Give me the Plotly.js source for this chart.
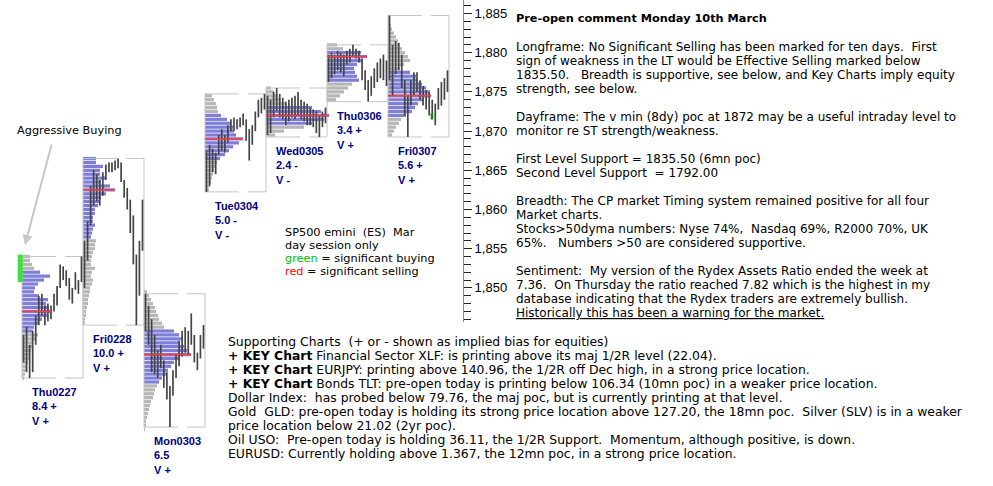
<!DOCTYPE html>
<html>
<head>
<meta charset="utf-8">
<script src="https://cdn.plot.ly/plotly-3.0.1.min.js"></script>
<style>
  html, body { margin: 0; padding: 0; background: #fff; }
  #chart { width: 993px; height: 486px; }
</style>
</head>
<body>
<div id="chart"></div>
<script>
// ES (Mar) day sessions
const dayNames = ['Thu0227', 'Fri0228', 'Mon0303', 'Tue0304', 'Wed0305', 'Thu0306', 'Fri0307'];
const dayRangeNotes = ['8.4 +', '10.0 +', '6.5', '5.0 -', '2.4 -', '3.4 +', '5.6 +'];
const dayVolNotes = ['V +', 'V +', 'V +', 'V -', 'V -', 'V +', 'V +'];

// intraday bars, 20 per session
const barHighs = [
    [1844, 1845, 1842.75, 1844.5, 1846.5, 1849, 1849.25, 1847.75, 1848, 1847.75, 1849.25, 1850.25, 1853, 1852.75, 1852.25, 1851.25, 1850, 1852, 1851, 1854],
    [1856, 1858.5, 1863, 1865, 1864.5, 1863.75, 1864.75, 1865.75, 1866, 1866, 1866.25, 1866.5, 1866, 1863.75, 1862.75, 1861.25, 1859.25, 1854.25, 1856, 1861.25],
    [1849.25, 1847.75, 1846, 1844, 1842, 1842.75, 1840.75, 1839.25, 1837.5, 1839.5, 1841.5, 1843.25, 1844.5, 1845, 1844.5, 1846.75, 1844, 1841.75, 1844, 1845.25],
    [1867.5, 1868.25, 1867.75, 1867.25, 1869.5, 1870.25, 1869.5, 1870.75, 1871.5, 1871.75, 1871.5, 1871.75, 1872.25, 1871.5, 1870.25, 1870.75, 1872.5, 1874, 1874.25, 1874.75],
    [1874.5, 1874, 1875, 1875.5, 1874.75, 1874.25, 1873.75, 1874, 1874.25, 1874.5, 1875, 1874, 1873.75, 1873.5, 1873, 1872.75, 1872.5, 1872, 1872.5, 1873],
    [1879.75, 1880, 1879.75, 1880.25, 1880, 1879.75, 1880.25, 1880.5, 1881, 1880.5, 1880.25, 1879.25, 1877.75, 1876.5, 1877, 1878, 1878.75, 1879.25, 1879.75, 1879],
    [1884.75, 1881, 1881.5, 1881.25, 1879.75, 1876.5, 1874.5, 1876.5, 1877.5, 1877.5, 1876.5, 1875.75, 1875.25, 1875, 1874, 1873.5, 1875.5, 1876.25, 1876.75, 1877.75]
];
const barLows = [
    [1840.5, 1839.25, 1838.5, 1839.25, 1842.75, 1845.25, 1846.5, 1845.25, 1845.75, 1846, 1847, 1847.75, 1850, 1851, 1850.25, 1848.5, 1848, 1849.75, 1849.25, 1850.75],
    [1850, 1853.5, 1858, 1860.5, 1861, 1860.5, 1861.75, 1863.75, 1864.75, 1864.75, 1865, 1865.25, 1863.5, 1861.5, 1860, 1857, 1853, 1845.25, 1849, 1854.75],
    [1844.5, 1842.75, 1839.25, 1839, 1838.5, 1839.75, 1837.25, 1835.75, 1832.25, 1836.25, 1838.5, 1840, 1841.25, 1841.75, 1841.5, 1842.75, 1840.5, 1839.5, 1841, 1842.25],
    [1862.25, 1863, 1864.75, 1864.5, 1867, 1867.5, 1867.25, 1868.5, 1870, 1870, 1870.25, 1870.5, 1870.75, 1868.75, 1866.25, 1868.25, 1870, 1871.75, 1872.25, 1872.75],
    [1869.5, 1869.75, 1871.75, 1872.5, 1871.75, 1871.5, 1870.75, 1871.25, 1871.75, 1871.5, 1872, 1871.5, 1871.25, 1870.75, 1870.75, 1870.5, 1869.75, 1869.25, 1870.5, 1871],
    [1876.25, 1876.75, 1877.25, 1877.75, 1877.5, 1877, 1878.5, 1878.75, 1879.5, 1879.25, 1878.75, 1876.5, 1875.25, 1873.75, 1874.5, 1875.5, 1876.25, 1876.75, 1876.5, 1875.75],
    [1876.5, 1874.5, 1877.25, 1877.75, 1875.5, 1872, 1869.25, 1873.25, 1874.5, 1875, 1874, 1873.25, 1872.75, 1872, 1871.5, 1870.75, 1872.75, 1873.25, 1874, 1875]
];

// volume profile, 0.5 pt steps going down from profileTop
const profileTop = [1854, 1866.5, 1849.5, 1874.5, 1875.5, 1881, 1884.5];
const profileVol = [
    [8, 8, 10, 12, 18, 28, 22, 16, 13, 12, 17, 26, 24, 27, 30, 25, 20, 16, 12, 11, 16, 13, 11, 10, 9, 7, 7, 6, 5, 4, 3, 2],
    [13, 13, 20, 17, 17, 23, 18, 27, 32, 23, 18, 16, 15, 12, 12, 10, 10, 12, 10, 9, 8, 13, 12, 12, 10, 9, 8, 8, 12, 9, 8, 10, 9, 7, 7, 6, 5, 5, 4, 3, 3, 2, 2],
    [3, 5, 7, 9, 11, 12, 14, 15, 18, 20, 30, 35, 38, 36, 40, 43, 47, 36, 30, 27, 24, 22, 18, 15, 13, 11, 10, 9, 7, 6, 5, 4, 3, 2, 2, 1],
    [7, 9, 11, 12, 13, 16, 22, 26, 28, 29, 31, 38, 34, 28, 24, 20, 15, 12, 11, 9, 8, 7, 6, 5, 4],
    [5, 8, 12, 15, 20, 46, 55, 63, 58, 46, 38, 18, 9],
    [10, 16, 34, 40, 35, 30, 27, 28, 30, 32, 25, 21, 17, 13, 9],
    [2, 2, 3, 4, 6, 8, 10, 12, 14, 17, 20, 22, 16, 12, 22, 28, 29, 34, 38, 42, 43, 35, 30, 27, 24, 18, 13, 11, 8, 6, 4]
];
const valueHigh = [1852, 1866.5, 1844.5, 1872, 1873, 1880, 1877.5];
const valueLow = [1844.5, 1856.5, 1838, 1866.5, 1871, 1876.5, 1872];

// significant buying marks (session, time of day, price span)
const sigBuyDay = [0, 6];
const sigBuyTime = [-0.03, 0.72];
const sigBuyLow = [1850.75, 1871.5];
const sigBuyHigh = [1854.25, 1872.25];

const yTickVals = [1850, 1855, 1860, 1865, 1870, 1875, 1880, 1885];

const commentLines = [
    '<b>Pre-open comment Monday 10th March</b>',
    '',
    'Longframe: No Significant Selling has been marked for ten days.\u00a0 First',
    'sign of weakness in the LT would be Effective Selling marked below',
    '1835.50.\u00a0\u00a0 Breadth is supportive, see below, and Key Charts imply equity',
    'strength, see below.',
    '',
    'Dayframe: The v min (8dy) poc at 1872 may be a useful intraday level to',
    'monitor re ST strength/weakness.',
    '',
    'First Level Support = 1835.50 (6mn poc)',
    'Second Level Support\u00a0 = 1792.00',
    '',
    'Breadth: The CP market Timing system remained positive for all four',
    'Market charts.',
    'Stocks&gt;50dyma numbers: Nyse 74%,\u00a0 Nasdaq 69%, R2000 70%, UK',
    '65%.\u00a0\u00a0 Numbers &gt;50 are considered supportive.',
    '',
    'Sentiment:\u00a0 My version of the Rydex Assets Ratio ended the week at',
    '7.36.\u00a0 On Thursday the ratio reached 7.82 which is the highest in my',
    'database indicating that the Rydex traders are extremely bullish.',
    '<u>Historically this has been a warning for the market.</u>'
];

const supportLines = [
    'Supporting Charts\u00a0 (+ or - shown as implied bias for equities)',
    '<b>+ KEY Chart</b> Financial Sector XLF: is printing above its maj 1/2R level (22.04).',
    '<b>+ KEY Chart</b> EURJPY: printing above 140.96, the 1/2R off Dec high, in a strong price location.',
    '<b>+ KEY Chart</b> Bonds TLT: pre-open today is printing below 106.34 (10mn poc) in a weaker price location.',
    'Dollar Index:\u00a0 has probed below 79.76, the maj poc, but is currently printing at that level.',
    'Gold\u00a0 GLD: pre-open today is holding its strong price location above 127.20, the 18mn poc.\u00a0 Silver (SLV) is in a weaker',
    'price location below 21.02 (2yr poc).',
    'Oil USO:\u00a0 Pre-open today is holding 36.11, the 1/2R Support.\u00a0 Momentum, although positive, is down.',
    'EURUSD: Currently holding above 1.367, the 12mn poc, in a strong price location.'
];

const noteLines = [
    'SP500 emini\u00a0 (ES)\u00a0 Mar',
    'day session only',
    '<span style="color:#00c000">green</span> = significant buying',
    '<span style="color:#ff0000">red</span> = significant selling'
];

// ---- geometry ----
const W = 993, H = 486;
const plotW = 463;                 // price axis sits at x = 463
const dayPx = 61;                  // width of one session box
const firstBoxPx = 22;
const pxPerPt = 7.84;
const yTop = 1885 + 13.5 / pxPerPt;
const yBottom = yTop - H / pxPerPt;
const axisBottom = 1845.6;
const VOL_PER_DAY = dayPx;         // profile length: 1 unit = 1 px

const px = x => x / plotW;
const py = y => 1 - y / H;

const nBars = 20;
const traces = [];

// session boxes
const vx = [], vy = [], hx = [], hy = [];
const dayLow = [], dayHigh = [];
dayNames.forEach((name, d) => {
    const lo = Math.min(...barLows[d]);
    const hi = Math.max(...barHighs[d]);
    dayLow.push(lo);
    dayHigh.push(hi);
    vx.push(d, d, null, d + 1, d + 1, null);
    vy.push(lo, hi, null, lo, hi, null);
    hx.push(d, d + 1, null, d, d + 1, null);
    hy.push(hi, hi, null, lo, lo, null);
});
traces.push({ x: vx, y: vy, type: 'scatter', mode: 'lines', line: { color: '#c4c4c4', width: 1 }, hoverinfo: 'skip' });
traces.push({ x: hx, y: hy, type: 'scatter', mode: 'lines', line: { color: '#c4c4c4', width: 1, dash: '34px,9px' }, hoverinfo: 'skip' });

// price bars
const bx = [], by = [];
dayNames.forEach((name, d) => {
    for (let i = 0; i < nBars; i++) {
        const t = d + (i + 0.5) / nBars;
        bx.push(t, t, null);
        by.push(barLows[d][i], barHighs[d][i], null);
    }
});
traces.push({ x: bx, y: by, type: 'scatter', mode: 'lines', line: { color: '#444444', width: 1.7 }, hoverinfo: 'skip' });

// volume profiles
const px_ = [], py_ = [], pbase = [], pcol = [];
const pocX = [], pocY = [];
profileVol.forEach((vols, d) => {
    let best = 0;
    vols.forEach((v, k) => {
        const price = profileTop[d] - 0.5 * k;
        px_.push(v / VOL_PER_DAY);
        py_.push(price);
        pbase.push(d);
        const inVA = price <= valueHigh[d] && price >= valueLow[d];
        pcol.push(inVA ? 'rgba(20,20,185,0.55)' : 'rgba(110,110,110,0.5)');
        if (v > vols[best]) best = k;
    });
    pocX.push(d, d + vols[best] / VOL_PER_DAY, null);
    pocY.push(profileTop[d] - 0.5 * best, profileTop[d] - 0.5 * best, null);
});
traces.push({
    type: 'bar', orientation: 'h', x: px_, y: py_, base: pbase, width: 0.41,
    marker: { color: pcol, line: { width: 0 } }, hoverinfo: 'skip'
});
traces.push({ x: pocX, y: pocY, type: 'scatter', mode: 'lines', line: { color: '#ff3b3b', width: 1.5 }, hoverinfo: 'skip' });

// significant buying
const sigStyles = [{ color: '#3ee03e', width: 5 }, { color: '#009900', width: 2.5 }];
sigBuyDay.forEach((d, i) => {
    const t = d + sigBuyTime[i];
    traces.push({ x: [t, t], y: [sigBuyLow[i], sigBuyHigh[i]], type: 'scatter', mode: 'lines', line: sigStyles[i], hoverinfo: 'skip' });
});

// keeps the price scale axis on the chart
traces.push({ x: [null], y: [null], yaxis: 'y2', type: 'scatter', mode: 'lines', hoverinfo: 'skip' });

// ---- annotations ----
const annotations = [];
dayNames.forEach((name, d) => {
    annotations.push({
        xref: 'x', yref: 'y', x: d + 8 / dayPx, y: dayLow[d],
        xanchor: 'left', yanchor: 'top', yshift: -6, align: 'left', showarrow: false,
        text: '<b>' + name + '<br>' + dayRangeNotes[d] + '<br>' + dayVolNotes[d] + '</b>',
        font: { family: 'Liberation Sans, Arial, sans-serif', size: 11, color: '#000080' }
    });
});

commentLines.forEach((txt, k) => {
    if (!txt) return;
    annotations.push({
        xref: 'paper', yref: 'paper', x: px(514), y: py(18.7 + 14 * k),
        xanchor: 'left', yanchor: 'middle', showarrow: false, align: 'left', text: txt,
        font: { family: 'DejaVu Sans, Verdana, sans-serif', size: k === 0 ? 11.3 : 12, color: '#000' }
    });
});

supportLines.forEach((txt, k) => {
    annotations.push({
        xref: 'paper', yref: 'paper', x: px(226), y: py(341 + 14 * k),
        xanchor: 'left', yanchor: 'middle', showarrow: false, align: 'left', text: txt,
        font: { family: 'DejaVu Sans, Tahoma, sans-serif', size: 12.4, color: '#000' }
    });
});

noteLines.forEach((txt, k) => {
    annotations.push({
        xref: 'paper', yref: 'paper', x: px(283), y: py(232 + 13 * k),
        xanchor: 'left', yanchor: 'middle', showarrow: false, align: 'left', text: txt,
        font: { family: 'DejaVu Sans, Tahoma, sans-serif', size: 11.3, color: '#000' }
    });
});

annotations.push({
    xref: 'paper', yref: 'paper', x: px(15), y: py(130), xanchor: 'left', yanchor: 'middle',
    showarrow: false, text: 'Aggressive Buying',
    font: { family: 'DejaVu Sans, Tahoma, sans-serif', size: 11.3, color: '#000' }
});
annotations.push({
    xref: 'paper', yref: 'paper', x: px(25), y: py(245), text: '',
    showarrow: true, ax: 27, ay: -102, arrowcolor: '#c6c6c6', arrowwidth: 2, arrowhead: 2, arrowsize: 1
});

const layout = {
    width: W, height: H,
    margin: { l: 0, r: W - plotW, t: 0, b: 0 },
    paper_bgcolor: '#fff', plot_bgcolor: 'rgba(0,0,0,0)',
    showlegend: false, barmode: 'overlay', hovermode: false,
    xaxis: { visible: false, range: [-firstBoxPx / dayPx, (plotW - firstBoxPx) / dayPx], fixedrange: true },
    yaxis: { visible: false, range: [yBottom, yTop], fixedrange: true },
    yaxis2: {
        anchor: 'x', side: 'right',
        domain: [(axisBottom - yBottom) / (yTop - yBottom), 1],
        range: [axisBottom, yTop],
        showline: true, linecolor: '#8a8a8a', linewidth: 1,
        showgrid: false, zeroline: false,
        tickmode: 'array', tickvals: yTickVals, tickformat: ',d',
        ticks: 'outside', ticklen: 8, tickcolor: '#222', tickwidth: 1,
        minor: { ticks: 'outside', ticklen: 7, tickcolor: '#222', dtick: 1, tick0: 1846, showgrid: false },
        tickfont: { family: 'Liberation Sans, Arial, sans-serif', size: 13, color: '#000' }
    },
    annotations
};

Plotly.newPlot('chart', traces, layout, { staticPlot: true, displayModeBar: false });
</script>
</body>
</html>
